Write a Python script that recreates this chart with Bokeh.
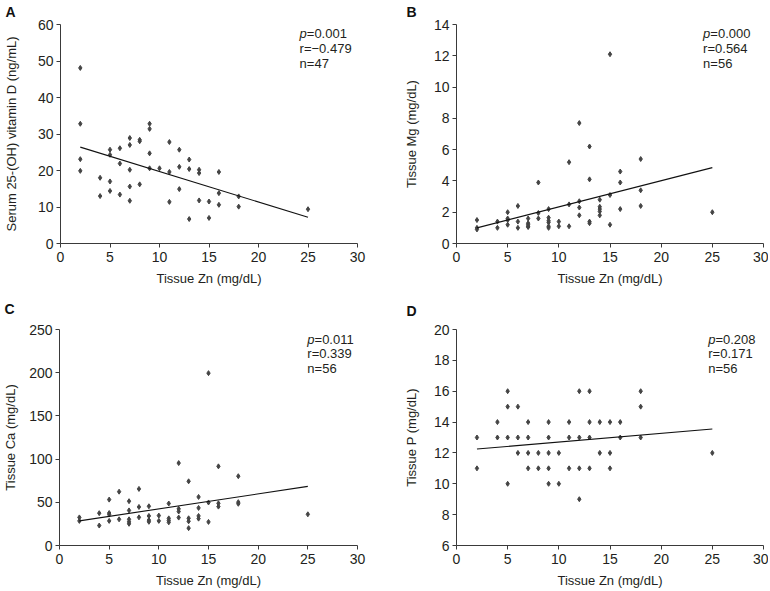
from bokeh.plotting import figure
from bokeh.models import Range1d, Label, FixedTicker
from bokeh.layouts import column, row
from bokeh.embed import file_html
from bokeh.resources import INLINE

# ---------------- data ----------------
x_ticks = [0, 5, 10, 15, 20, 25, 30]
x_label = "Tissue Zn (mg/dL)"
line_x = [2, 25]

# Panel A: Serum 25-(OH) vitamin D
a_zn = [2, 2, 2, 2, 4, 4, 5, 5, 5, 5, 6, 6, 6, 7, 7, 7, 7, 7, 8, 8, 8,
        9, 9, 9, 9, 10, 11, 11, 11, 12, 12, 12, 13, 13, 13, 14, 14, 14,
        15, 15, 16, 16, 16, 18, 18, 25]
a_vd = [48.1, 32.8, 23.1, 19.9, 18.0, 13.0, 25.7, 24.3, 17.0, 14.4, 26.1, 21.9, 13.4,
        28.9, 27.0, 20.2, 15.6, 11.7, 28.4, 28.0, 16.2, 32.8, 31.4, 24.7, 20.6,
        20.6, 27.8, 19.6, 11.4, 25.7, 21.0, 14.9, 23.0, 20.4, 6.7, 20.2, 19.3, 11.8,
        11.5, 7.0, 19.6, 13.8, 10.6, 12.9, 10.1, 9.4]
a_fit = [26.4, 7.2]
a_stats = ["=0.001", "r=\u22120.479", "n=47"]

# Panel B: Tissue Mg
b_zn = [2, 2, 2, 4, 4, 5, 5, 5, 5, 6, 6, 6, 7, 7, 7, 7, 7, 8, 8, 8,
        9, 9, 9, 9, 9, 9, 10, 10, 11, 11, 11, 12, 12, 12, 12, 13, 13, 13, 13,
        14, 14, 14, 14, 14, 15, 15, 15, 16, 16, 16, 18, 18, 18, 25]
b_mg = [1.5, 1.0, 0.9, 1.4, 1.0, 2.0, 1.6, 1.5, 1.2, 2.4, 1.4, 1.0,
        1.6, 1.3, 1.2, 1.1, 1.05, 3.9, 1.95, 1.6,
        2.2, 1.65, 1.45, 1.35, 1.1, 1.0, 1.4, 1.1, 5.2, 2.5, 1.1,
        7.7, 2.7, 2.3, 1.8, 6.2, 4.1, 1.4, 1.3,
        2.8, 2.35, 2.2, 2.05, 1.8, 12.1, 3.1, 1.2, 4.6, 3.9, 2.2, 5.4, 3.4, 2.4, 2.0]
b_fit = [1.0, 4.85]
b_stats = ["=0.000", "r=0.564", "n=56"]

# Panel C: Tissue Ca
c_zn = [2, 2, 4, 4, 5, 5, 5, 5, 6, 6, 7, 7, 7, 7, 7, 8, 8, 8, 9, 9, 9, 9,
        10, 10, 11, 11, 11, 11, 12, 12, 12, 12, 13, 13, 13, 13, 14, 14, 14, 14,
        15, 15, 15, 16, 16, 16, 18, 18, 18, 25]
c_ca = [32.5, 28.5, 37.4, 23.1, 53.1, 37.6, 35.8, 28.5, 62.3, 30.3,
        51.3, 40.6, 30.3, 27.4, 25.1, 65.5, 44.6, 32.6, 45.4, 34.2, 29.4, 27.4,
        34.6, 28.5, 48.6, 31.4, 29.0, 26.8, 95.4, 42.4, 39.3, 32.3,
        74.3, 31.5, 28.0, 20.1, 56.2, 43.5, 34.2, 31.1,
        199.5, 49.8, 27.3, 91.6, 48.8, 45.0, 80.2, 50.2, 48.3, 36.1]
c_fit = [28.5, 68.4]
c_stats = ["=0.011", "r=0.339", "n=56"]

# Panel D: Tissue P
d_zn = [2, 2, 4, 4, 5, 5, 5, 5, 6, 6, 6, 7, 7, 7, 7, 8, 8, 9, 9, 9, 9, 9,
        10, 10, 11, 11, 11, 12, 12, 12, 12, 13, 13, 13, 13, 14, 14,
        15, 15, 15, 16, 16, 18, 18, 18, 25]
d_p = [13, 11, 14, 13, 16, 15, 13, 10, 15, 13, 12, 14, 13, 12, 11, 12, 11,
       14, 13, 12, 11, 10, 12, 10, 14, 13, 11, 16, 13, 11, 9, 16, 14, 13, 11,
       14, 12, 14, 12, 11, 14, 13, 16, 15, 13, 12]
d_fit = [12.25, 13.55]
d_stats = ["=0.208", "r=0.171", "n=56"]

# ---------------- styling ----------------
FONT = "Liberation Sans"
TXT = "#231f20"
AX = "#3a3a3a"
PT = "#444444"


def panel(letter, xs, ys, fit, stats, ymin, ymax, yticks, ylabel,
          w, h, bl, br, bt, bb, stat_x, stat_offs, letter_dx, letter_standoff,
          ylab_standoff):
    p = figure(width=w, height=h, x_range=Range1d(0, 30), y_range=Range1d(ymin, ymax),
               output_backend="svg", toolbar_location=None, title=letter,
               min_border_left=bl, min_border_right=br,
               min_border_top=bt, min_border_bottom=bb)
    p.outline_line_color = None
    p.grid.visible = False
    p.background_fill_color = "white"
    p.border_fill_color = "white"

    p.title.text_font = FONT
    p.title.text_font_size = "14px"
    p.title.text_font_style = "bold"
    p.title.text_color = "#111111"
    p.title.align = "left"
    p.title.vertical_align = "top"
    p.title.offset = letter_dx
    p.title.standoff = letter_standoff

    p.xaxis.ticker = FixedTicker(ticks=x_ticks)
    p.yaxis.ticker = FixedTicker(ticks=yticks)
    p.xaxis.axis_label = x_label
    p.yaxis.axis_label = ylabel
    for ax in (p.xaxis[0], p.yaxis[0]):
        ax.axis_line_color = AX
        ax.axis_line_width = 1
        ax.major_tick_line_color = AX
        ax.major_tick_in = 0
        ax.major_tick_out = 4
        ax.minor_tick_line_color = None
        ax.major_label_text_font = FONT
        ax.major_label_text_font_size = "14px"
        ax.major_label_text_color = TXT
        ax.major_label_standoff = 3
        ax.axis_label_text_font = FONT
        ax.axis_label_text_font_size = "13px"
        ax.axis_label_text_font_style = "normal"
        ax.axis_label_text_color = TXT
    p.xaxis.major_label_standoff = 4
    p.xaxis.axis_label_standoff = 6
    p.yaxis.axis_label_standoff = ylab_standoff

    p.scatter(xs, ys, marker="diamond", size=5, color=PT)
    p.line(line_x, fit, line_color="#111111", line_width=1.1)

    # stats text
    p.add_layout(Label(x=stat_x, y=ymax, y_offset=-stat_offs[0], text="p",
                       text_font=FONT, text_font_size="13px", text_font_style="italic",
                       text_color=TXT, text_baseline="middle", text_align="left"))
    p.add_layout(Label(x=stat_x, y=ymax, x_offset=7.2, y_offset=-stat_offs[0], text=stats[0],
                       text_font=FONT, text_font_size="13px",
                       text_color=TXT, text_baseline="middle", text_align="left"))
    for s, off in zip(stats[1:], stat_offs[1:]):
        p.add_layout(Label(x=stat_x, y=ymax, y_offset=-off, text=s,
                           text_font=FONT, text_font_size="13px",
                           text_color=TXT, text_baseline="middle", text_align="left"))
    return p


pa = panel("A", a_zn, a_vd, a_fit, a_stats, 0, 60, [0, 10, 20, 30, 40, 50, 60],
           "Serum 25-(OH) vitamin D (ng/mL)",
           385, 290, 54, 28, 24, 47, 24.15, [9, 24, 39], -55, 6, 16)
pb = panel("B", b_zn, b_mg, b_fit, b_stats, 0, 14, [0, 2, 4, 6, 8, 10, 12, 14],
           "Tissue Mg (mg/dL)",
           383, 290, 71, 5, 24, 47, 24.1, [9, 24, 39], -50, 6, 12)
pc = panel("C", c_zn, c_ca, c_fit, c_stats, 0, 250, [0, 50, 100, 150, 200, 250],
           "Tissue Ca (mg/dL)",
           385, 300, 54, 28, 39, 44, 24.95, [10, 24, 39], -55, 21, 8)
pd_ = panel("D", d_zn, d_p, d_fit, d_stats, 6, 20, [6, 8, 10, 12, 14, 16, 18, 20],
            "Tissue P (mg/dL)",
            383, 300, 71, 5, 39, 44, 24.6, [10, 24, 39], -50, 18, 12)

layout = column(row(pa, pb), row(pc, pd_))

open("out.html", "w").write(file_html(layout, INLINE))
